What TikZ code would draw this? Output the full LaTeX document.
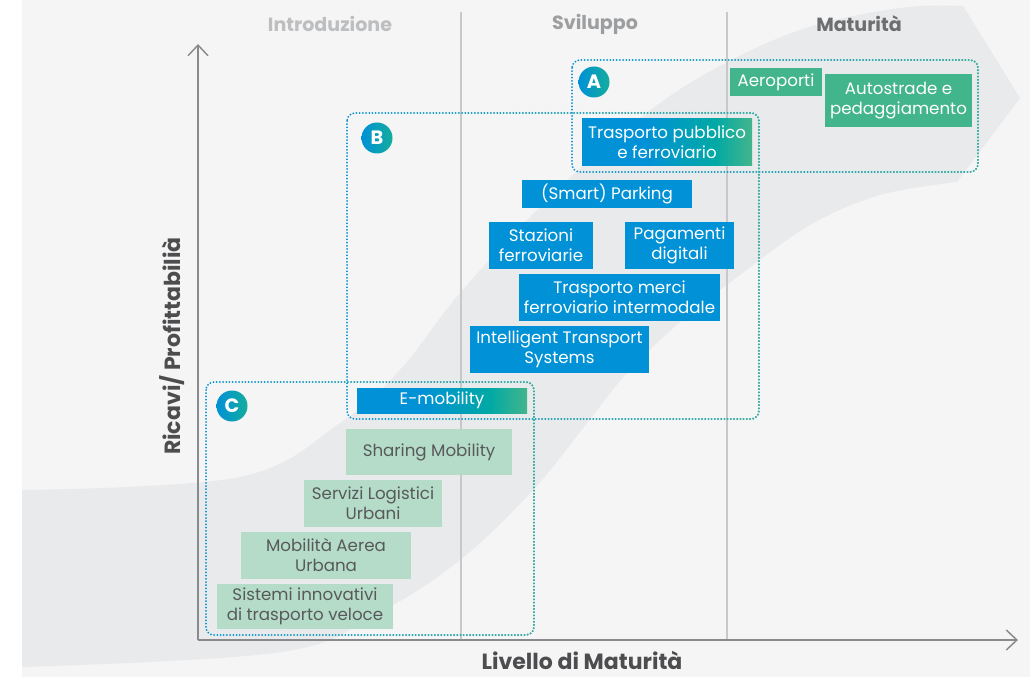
\documentclass[tikz,border=0pt]{standalone}
\usepackage{fontspec}
\setmainfont{Poppins}
\usetikzlibrary{arrows.meta,fadings}

\definecolor{cblue}{RGB}{0,145,214}
\definecolor{cteal}{RGB}{0,169,165}
\definecolor{cgreen}{RGB}{67,181,140}
\definecolor{cpale}{RGB}{180,220,201}
\definecolor{ctxt}{RGB}{88,89,91}
\definecolor{bgc}{RGB}{245,245,245}
\definecolor{bandc}{RGB}{233,234,236}
\definecolor{sepc}{RGB}{200,200,202}
\definecolor{axisc}{RGB}{138,138,140}
\definecolor{labc}{RGB}{77,77,79}

\pgfdeclarehorizontalshading{bluegreen}{100bp}{color(0bp)=(cblue); color(25bp)=(cblue); color(44bp)=(cblue); color(64bp)=(cteal); color(75bp)=(cgreen); color(100bp)=(cgreen)}
\tikzfading[name=fadeleft, left color=transparent!100, right color=transparent!0]

\tikzset{every picture/.style={line width=0.75pt},
	wh/.style 2 args={minimum width=#1*0.75pt, minimum height=#2*0.75pt},
	boxtext/.style={inner sep=0pt, align=center, font=\fontsize{12.5}{15}\selectfont},
	bluebox/.style={boxtext, fill=cblue, text=white},
	greenbox/.style={boxtext, fill=cgreen, text=white},
	gradbox/.style={boxtext, shade, shading=bluegreen, text=white},
	palebox/.style={boxtext, fill=cpale, text=ctxt},
	badge/.style={circle, inner sep=0pt, minimum size=31*0.75pt, left color=cblue, right color=cteal!70!cgreen, text=white, font=\fontsize{14.5}{16}\selectfont\bfseries},
	dotline/.style={line width=1.5pt, dash pattern=on 0pt off 2.4pt, line cap=round, rounded corners=6pt},
	phase/.style={font=\fontsize{14.3}{17}\selectfont\bfseries},
	axlab/.style={font=\fontsize{16.5}{19}\selectfont\bfseries, text=labc},
	axisline/.style={axisc, line width=1.5pt, -{Straight Barb[length=8pt, width=15pt, line width=1.1pt]}}}

\begin{document}
\begin{tikzpicture}[x=0.75pt,y=0.75pt,yscale=-1,xscale=1]
	\useasboundingbox (0,0) rectangle (1030,677);
	
	%Shape: Background
	\fill[bgc] (22,0) rectangle (1030,677);
	%Shape: Band
	\fill[bandc] plot[smooth, tension=0.6] coordinates {(22,490) (240,477) (340,423) (400,370) (460,293) (544,203) (620,134) (700,77) (800,30) (900,8) (963,6)} -- (1020,98)
		-- plot[smooth, tension=0.6] coordinates {(957,182) (880,195) (810,225) (740,275) (680,322) (627,373) (587,423) (533,490) (460,560) (380,612) (282,652) (22,667)} -- cycle;
	
	%Straight Lines
	\draw[sepc, line width=1.2pt] (461,12) -- (461,640);
	\draw[sepc, line width=1.2pt] (727,12) -- (727,640);
	
	%Axes
	\coordinate (O) at (198,640);
	\coordinate (ytop) at (198,44);
	\coordinate (xend) at (1018,640);
	\draw[axisline] (O) -- (ytop);
	\draw[axisline] (O) -- (xend);
	
	%Rounded Rect A
	\draw[dotline, cblue] (572,60) rectangle (978,172);
	\draw[dotline, cgreen, path fading=fadeleft] (572,60) rectangle (978,172);
	%Rounded Rect B
	\draw[dotline, cblue] (347,113) rectangle (759,419);
	\draw[dotline, cgreen, path fading=fadeleft] (347,113) rectangle (759,419);
	%Rounded Rect C
	\draw[dotline, cblue] (206,382) rectangle (534,635);
	\draw[dotline, cgreen, path fading=fadeleft] (206,382) rectangle (534,635);
	
	% Text Node
	\node[phase, text={rgb,255:red,189;green,190;blue,192}] (intro) at (330,24) {Introduzione};
	% Text Node
	\node[phase, text={rgb,255:red,157;green,158;blue,160}] (svil) at (595,24) {Sviluppo};
	% Text Node
	\node[phase, text={rgb,255:red,109;green,110;blue,112}] (matur) at (859,24) {Maturità};
	
	% Badges
	\node[badge] (bA) at (594,82) {A};
	\node[badge] (bB) at (377,138) {B};
	\node[badge] (bC) at (232,406) {C};
	
	% Boxes
	\node[greenbox, wh={92}{28}] (aero) at (776,82) {Aeroporti};
	\node[greenbox, wh={147}{53}] (auto) at (898.5,100.5) {Autostrade e\\pedaggiamento};
	\node[gradbox, wh={170}{47}] (tpf) at (667,142.5) {Trasporto pubblico\\e ferroviario};
	\node[bluebox, wh={170}{28}] (smart) at (607,194) {(Smart) Parking};
	\node[bluebox, wh={104}{47}] (staz) at (541,245.5) {Stazioni\\ferroviarie};
	\node[bluebox, wh={109}{47}] (pag) at (679.5,245.5) {Pagamenti\\digitali};
	\node[bluebox, wh={201}{47}] (merci) at (619.5,297.5) {Trasporto merci\\ferroviario intermodale};
	\node[bluebox, wh={179}{47}] (its) at (559.5,349.5) {Intelligent Transport\\Systems};
	\node[gradbox, wh={170}{25}] (emob) at (442,400.5) {E-mobility};
	\node[palebox, wh={166}{46}] (share) at (429,452) {Sharing Mobility};
	\node[palebox, wh={138}{47}] (servizi) at (373,503.5) {Servizi Logistici\\Urbani};
	\node[palebox, wh={170}{47}] (aerea) at (326,555.5) {Mobilità Aerea\\Urbana};
	\node[palebox, wh={176}{45}] (sistemi) at (305,606.5) {Sistemi innovativi\\di trasporto veloce};
	
	% Text Node
	\node[axlab, rotate=90] (ylab) at (172,346) {Ricavi/ Profittabilià};
	% Text Node
	\node[axlab] (xlab) at (582,660) {Livello di Maturità};
\end{tikzpicture}
\end{document}
